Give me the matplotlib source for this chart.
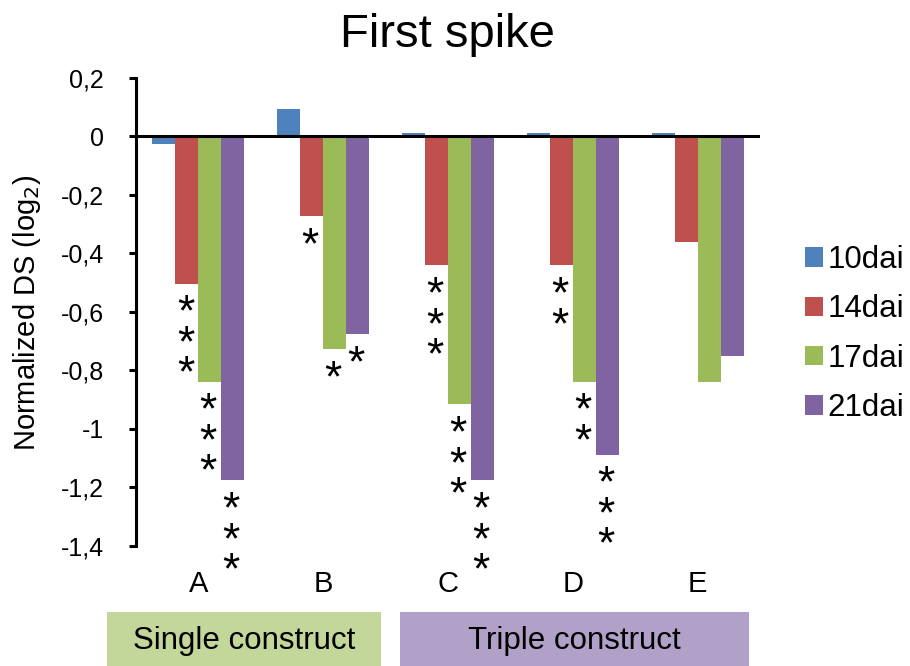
import matplotlib
matplotlib.use("Agg")
import matplotlib.pyplot as plt
from matplotlib.patches import Rectangle, Patch
import numpy as np

plt.rcParams['font.family'] = ['Liberation Sans', 'DejaVu Sans']

categories = ['A', 'B', 'C', 'D', 'E']
series = ['10dai', '14dai', '17dai', '21dai']
values = {
    '10dai': [-0.025, 0.095, 0.013, 0.013, 0.012],
    '14dai': [-0.503, -0.272, -0.441, -0.441, -0.36],
    '17dai': [-0.838, -0.728, -0.916, -0.838, -0.838],
    '21dai': [-1.176, -0.675, -1.176, -1.088, -0.752],
}
stars = {
    '10dai': [0, 0, 0, 0, 0],
    '14dai': [3, 1, 3, 2, 0],
    '17dai': [3, 1, 3, 2, 0],
    '21dai': [3, 1, 3, 3, 0],
}
yticks = [0.2, 0, -0.2, -0.4, -0.6, -0.8, -1, -1.2, -1.4]
ytick_labels = ['0,2', '0', '-0,2', '-0,4', '-0,6', '-0,8', '-1', '-1,2', '-1,4']
groups = [('Single construct', 0, 1), ('Triple construct', 2, 4)]

colors = ['#4F81BD', '#C0504D', '#9BBB59', '#8064A2']
group_colors = ['#C4D79B', '#B1A0C7']

W, H = 910, 666
fig = plt.figure(figsize=(W / 100, H / 100), dpi=100)
ax = fig.add_axes([136 / W, 1 - 546 / H, (760 - 136) / W, (546 - 78) / H])

x = np.arange(len(categories))
bw = 0.184
for i, s in enumerate(series):
    xs = x + (i - 1.5) * bw
    ax.bar(xs, values[s], width=bw, color=colors[i], edgecolor='none', zorder=2)
    for xi, v, n in zip(xs, values[s], stars[s]):
        if n == 0:
            continue
        ax.annotate('\n'.join(['*'] * n), xy=(xi, v), xytext=(-1.5, -10),
                    textcoords='offset pixels', ha='center', va='top',
                    fontsize=32, linespacing=0.67, color='black', zorder=3)

ax.set_xlim(-0.5, 4.5)
ax.set_ylim(-1.4, 0.2)
ax.axhline(0, color='black', lw=2.2, zorder=4)
for sp in ['top', 'right', 'bottom']:
    ax.spines[sp].set_visible(False)
ax.spines['left'].set_linewidth(2.2)
ax.set_yticks(yticks)
ax.set_yticklabels(ytick_labels)
ax.tick_params(axis='y', direction='out', length=5, width=2.2, labelsize=18, pad=18)
ax.set_xticks([])

for xi, c in zip(x, categories):
    ax.annotate(c, xy=(xi, 0), xycoords=('data', 'figure fraction'),
                xytext=(xi, 1 - 584 / H), textcoords=('data', 'figure fraction'),
                ha='center', va='center', fontsize=21)

fig.text(27 / W, 1 - 313 / H, 'Normalized DS (log$_2$)', rotation=90, ha='center', va='center',
         fontsize=21)
fig.text(447 / W, 1 - 35 / H, 'First spike', ha='center', va='center', fontsize=34)

# legend
handles = [Patch(facecolor=colors[i], edgecolor='none', label=s) for i, s in enumerate(series)]
fig.legend(handles=handles, loc='center left', bbox_to_anchor=(805 / W, 1 - 334 / H),
           frameon=False, fontsize=22.5, handlelength=0.58, handleheight=0.58,
           handletextpad=0.15, labelspacing=0.62, borderaxespad=0, borderpad=0)

# group boxes
boxes = [(107, 381), (400, 749)]
for (label, a, b), (x0, x1), gc in zip(groups, boxes, group_colors):
    fig.patches.append(Rectangle((x0 / W, 0), (x1 - x0) / W, (666 - 612) / H,
                                 transform=fig.transFigure, facecolor=gc, edgecolor='none'))
    fig.text((x0 + x1) / 2 / W, 1 - 641 / H, label, ha='center', va='center', fontsize=22.5)

fig.savefig('out.png', dpi=100)
